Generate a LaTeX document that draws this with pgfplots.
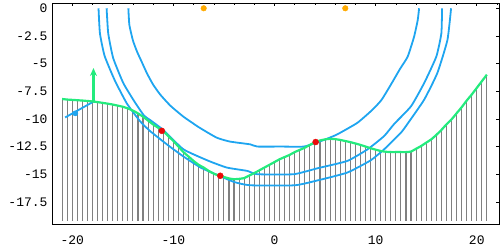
\documentclass[border=0pt]{standalone}
\usepackage{pgfplots}
\pgfplotsset{compat=1.18}
\usepackage{pgfplotstable}
\usepackage{fontspec}
\setmainfont{Liberation Mono}
\usetikzlibrary{arrows.meta}
\definecolor{myblue}{RGB}{30,165,240}
\definecolor{mygreen}{RGB}{35,235,125}
\definecolor{mygray}{RGB}{128,128,128}
\definecolor{myred}{RGB}{235,10,10}
\definecolor{myorange}{RGB}{255,170,0}

\pgfplotstableread{
x y
-21 -8.2
-20.5 -8.25
-20 -8.28
-19.5 -8.31
-19 -8.34
-18.5 -8.38
-18 -8.42
-17.5 -8.48
-17 -8.55
-16.5 -8.62
-16 -8.7
-15.5 -8.8
-15 -8.9
-14.5 -9.05
-14 -9.25
-13.5 -9.5
-13 -9.8
-12.5 -10.15
-12 -10.5
-11.5 -10.8
-11 -11.1
-10.5 -11.55
-10 -12.0
-9.5 -12.5
-9 -13.0
-8.5 -13.4
-8 -13.8
-7.5 -14.15
-7 -14.4
-6.5 -14.7
-6 -14.95
-5.5 -15.12
-5 -15.25
-4.5 -15.38
-4 -15.45
-3.5 -15.42
-3 -15.35
-2.5 -15.12
-2 -14.9
-1.5 -14.65
-1 -14.4
-0.5 -14.15
0 -13.9
0.5 -13.65
1 -13.45
1.5 -13.25
2 -13.0
2.5 -12.8
3 -12.6
3.5 -12.35
4 -12.12
4.5 -11.95
5 -11.85
5.5 -11.8
6 -11.83
6.5 -11.9
7 -12.0
7.5 -12.1
8 -12.22
8.5 -12.35
9 -12.5
9.5 -12.65
10 -12.78
10.5 -12.9
11 -12.97
11.5 -13.0
12 -13.0
12.5 -13.0
13 -13.0
13.5 -12.95
14 -12.7
14.5 -12.45
15 -12.15
15.5 -11.85
16 -11.45
16.5 -11.0
17 -10.5
17.5 -10.05
18 -9.5
18.5 -8.95
19 -8.35
19.5 -7.8
20 -7.2
20.5 -6.6
21 -6.0
}\ground

\pgfplotstableread{
x y
-14.45 0
-14.35 -1.5
-14.0 -2.9
-13.6 -3.9
-13.1 -4.9
-12.6 -5.9
-12.0 -6.9
-11.3 -7.8
-10.3 -8.8
-9.0 -9.8
-7.4 -10.8
-5.7 -11.7
-4.4 -12.05
-2.4 -12.3
-1.7 -12.5
0.6 -12.5
2.9 -12.5
4.1 -12.15
4.9 -11.9
6.2 -11.4
8.2 -10.35
9.7 -9.16
10.6 -8.26
11.6 -6.76
12.4 -5.5
13.17 -4.37
13.8 -2.58
14.16 -1.08
14.3 0
}\wa

\pgfplotstableread{
x y
-16.6 0
-16.44 -2.27
-15.95 -4.5
-14.95 -6.76
-13.8 -8.5
-12.9 -9.7
-12.3 -10.1
-11 -11.0
-9 -12.75
-6.5 -13.8
-4.7 -14.4
-2.7 -14.7
-1.7 -15.0
1.9 -15.0
4.3 -14.45
7.2 -13.8
9.2 -12.75
10.84 -11.55
11.84 -10.45
13.5 -8.86
14.8 -6.76
16.0 -4.37
16.5 -2.27
16.57 0
}\wb

\pgfplotstableread{
x y
-17.4 0
-17.26 -2.27
-16.8 -4.3
-15.8 -6.5
-14.6 -8.6
-13.3 -10.2
-12.3 -11.1
-10.5 -12.4
-9 -13.4
-7.3 -14.4
-5.7 -15.05
-4 -15.7
-2.4 -16.0
2.0 -16.0
4.3 -15.55
7.2 -14.85
9.5 -13.75
10.84 -12.75
12.5 -11.25
13.15 -10.45
14.8 -8.26
16.1 -5.86
17.1 -2.87
17.46 0
}\wc

\begin{document}
\begin{tikzpicture}
\begin{axis}[
  name=ax,
  scale only axis,
  width=447pt, height=220.7pt,
  xmin=-22, xmax=22.2, ymin=-19.5, ymax=0.45,
  xtick={-20,-10,0,10,20},
  xticklabels={-20,-10,0,10,20},
  minor xtick={-22,-20,...,22},
  ytick={-17.5,-15,-12.5,-10,-7.5,-5,-2.5,0},
  yticklabels={-17.5,-15,-12.5,-10,-7.5,-5,-2.5,0},
  xtick pos=right, xticklabel pos=left,
  ytick pos=right, yticklabel pos=left,
  tick align=inside,
  major tick length=3pt, minor tick length=1.8pt,
  tick style={black, line width=0.6pt},
  axis line style={line width=0.8pt},
  ticklabel style={font=\fontsize{13}{13}\selectfont},
  xticklabel style={yshift=-8pt},
  yticklabel style={xshift=-1pt},
  clip=true,
]
% vertical hatching
\addplot[draw=none, no marks,
  error bars/.cd, y dir=minus, y explicit, error mark=none,
  error bar style={draw=mygray, line width=1.1pt}]
  table[x=x, y=y, y error expr={\thisrow{y}+19.2}] {\ground};
% wavefronts
\addplot[myblue, no marks, smooth, tension=0.3, line width=1.8pt] table[x=x,y=y] {\wa};
\addplot[myblue, no marks, smooth, tension=0.3, line width=1.8pt] table[x=x,y=y] {\wb};
\addplot[myblue, no marks, smooth, tension=0.3, line width=1.8pt] table[x=x,y=y] {\wc};
% ray segment
\addplot[myblue, no marks, line width=1.8pt] coordinates {(-20.7,-9.87) (-17.9,-8.44)};
\addplot[only marks, mark=*, mark size=2.6pt, color=myblue] coordinates {(-19.7,-9.5)};
% ground
\addplot[mygreen, no marks, smooth, tension=0.3, line width=2.2pt] table[x=x,y=y] {\ground};
% arrow
\addplot[mygreen, no marks, line width=2.2pt, -{Stealth[length=8pt,width=7pt]}] coordinates {(-17.9,-8.44) (-17.9,-5.4)};
% red points
\addplot[only marks, mark=*, mark size=3pt, color=myred] coordinates {(-11.14,-11.08) (-5.36,-15.14) (4.07,-12.09)};
% orange points
\addplot[only marks, mark=*, mark size=2.8pt, color=myorange] coordinates {(-7,0) (7,0)};
\end{axis}
\pgfresetboundingbox
\path ([shift={(-52pt,-26pt)}]ax.south west) rectangle ([shift={(1pt,3.3pt)}]ax.north east);
\end{tikzpicture}
\end{document}
